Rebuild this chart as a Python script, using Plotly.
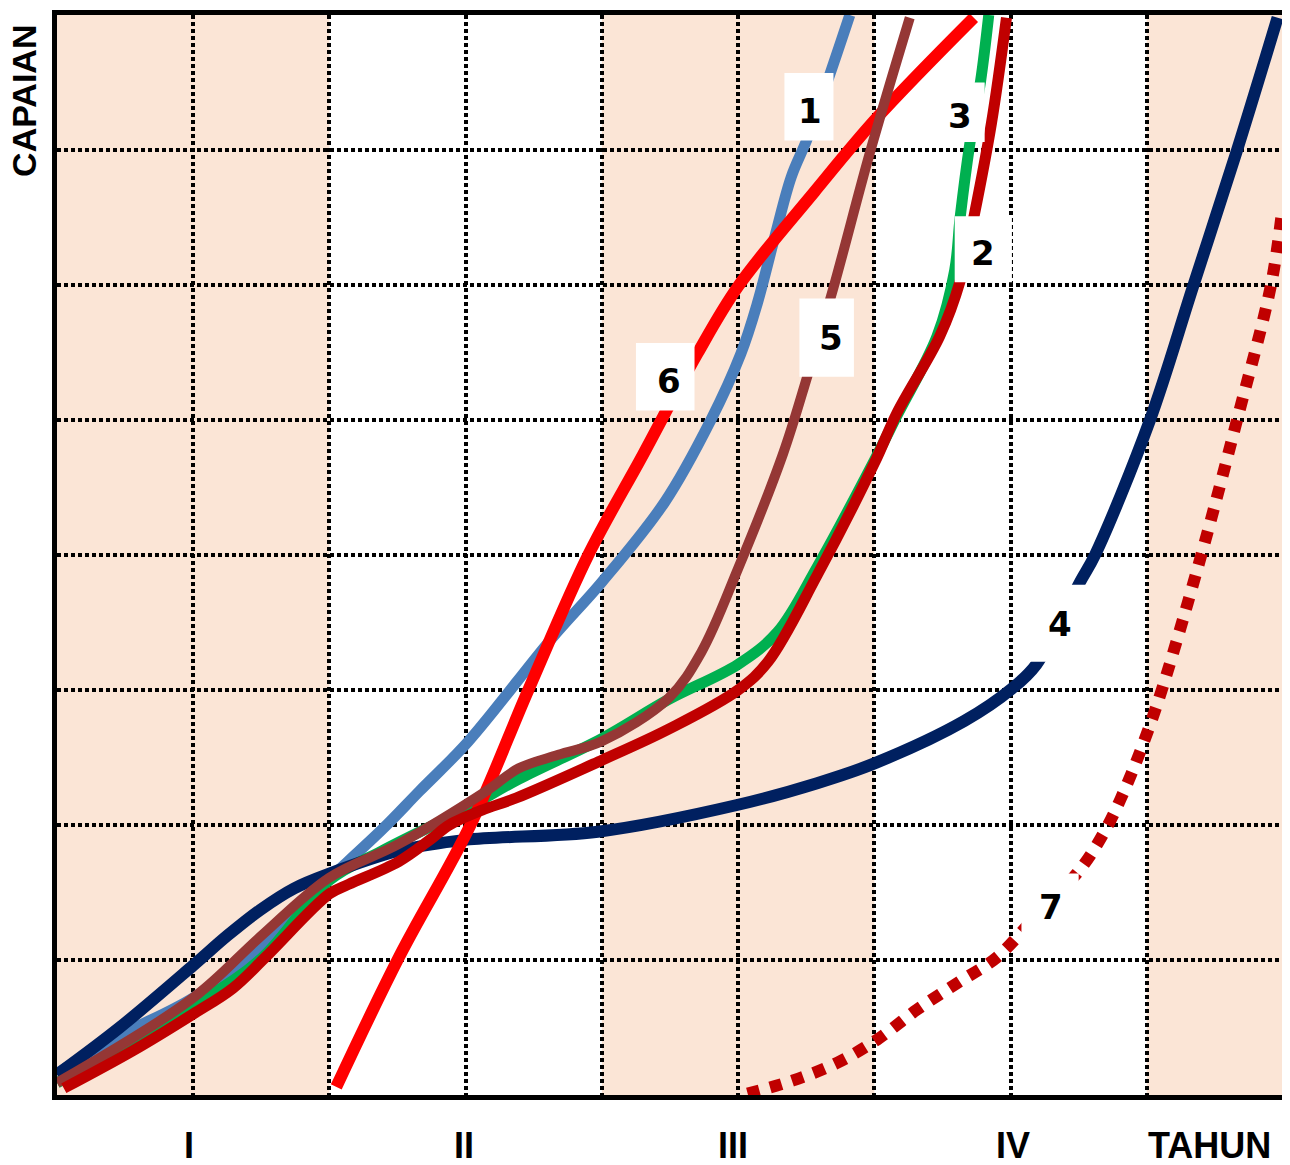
import plotly.graph_objects as go

# ---- data (x: column units 0..9, y: row units 0..8) ----
blue_x = [0.0, 0.46, 1.0, 1.49, 1.85, 2.39, 2.66, 3.02, 3.63, 4.0, 4.46, 4.80, 5.02, 5.14, 5.27, 5.39, 5.51, 5.68, 5.82]
blue_y = [0.16, 0.44, 0.72, 1.09, 1.46, 1.97, 2.25, 2.62, 3.38, 3.80, 4.39, 5.0, 5.49, 5.86, 6.36, 6.80, 7.09, 7.58, 8.0]

green_x = [0.0, 1.0, 1.51, 2.0, 2.39, 3.0, 3.39, 4.0, 4.49, 5.0, 5.29, 5.58, 6.0, 6.17, 6.46, 6.59, 6.63, 6.70, 6.78, 6.84]
green_y = [0.09, 0.66, 1.02, 1.59, 1.81, 2.12, 2.34, 2.64, 2.93, 3.19, 3.43, 3.91, 4.70, 5.04, 5.62, 6.11, 6.50, 7.04, 7.51, 8.0]

navy_x = [0.0, 0.46, 1.0, 1.25, 1.49, 1.74, 2.0, 2.51, 3.0, 3.97, 5.0, 5.58, 6.01, 6.66, 7.01, 7.19, 7.51, 7.62, 8.02, 8.34, 8.66, 8.96]
navy_y = [0.15, 0.50, 0.96, 1.18, 1.37, 1.53, 1.64, 1.81, 1.89, 1.95, 2.15, 2.31, 2.46, 2.77, 3.01, 3.19, 3.80, 4.0, 4.99, 5.99, 6.99, 7.98]

red6_x = [2.05, 2.51, 3.04, 3.46, 3.90, 4.30, 4.70, 5.00, 5.56, 6.02, 6.73]
red6_y = [0.06, 1.02, 2.01, 3.00, 4.00, 4.74, 5.49, 5.99, 6.69, 7.24, 7.98]

brown_x = [0.0, 1.0, 1.49, 2.0, 2.51, 3.15, 3.39, 3.68, 4.0, 4.49, 4.73, 5.0, 5.33, 5.51, 5.70, 5.97, 6.26]
brown_y = [0.09, 0.72, 1.17, 1.61, 1.86, 2.25, 2.42, 2.52, 2.62, 2.94, 3.28, 3.90, 4.75, 5.33, 5.98, 6.99, 7.98]

dred_x = [0.05, 0.56, 1.0, 1.29, 1.53, 2.0, 2.14, 2.51, 2.75, 2.88, 3.12, 3.37, 4.0, 4.49, 5.0, 5.22, 5.58, 6.0, 6.17, 6.48, 6.63, 6.73, 6.86, 6.97]
dred_y = [0.05, 0.33, 0.60, 0.79, 1.02, 1.49, 1.56, 1.73, 1.90, 2.00, 2.11, 2.20, 2.48, 2.71, 3.00, 3.21, 3.85, 4.68, 5.06, 5.62, 6.03, 6.50, 7.20, 7.98]

dot_x = [5.07, 5.41, 5.73, 6.02, 6.31, 6.61, 6.90, 7.19, 7.51, 7.70, 7.85, 7.98, 8.11, 8.40, 8.66, 8.91, 8.99]
dot_y = [0.01, 0.11, 0.24, 0.41, 0.63, 0.83, 1.02, 1.33, 1.67, 1.97, 2.29, 2.62, 3.00, 4.00, 4.99, 5.99, 6.52]

# curve labels: text, centre x, centre y, white box x0, x1, y0, y1
label_text = ["1", "2", "3", "4", "5", "6", "7"]
label_x = [5.53, 6.80, 6.63, 7.36, 5.68, 4.49, 7.30]
label_y = [7.29, 6.24, 7.25, 3.49, 5.61, 5.29, 1.39]
box_x0 = [5.34, 6.59, 6.45, 7.12, 5.45, 4.25, 7.08]
box_x1 = [5.70, 7.01, 6.81, 7.63, 5.85, 4.68, 7.50]
box_y0 = [7.07, 6.02, 7.06, 3.21, 5.32, 5.07, 1.14]
box_y1 = [7.57, 6.51, 7.50, 3.78, 5.90, 5.57, 1.64]

period_labels = ["I", "II", "III", "IV"]
period_pos = [0.97, 2.99, 4.96, 7.02]
x_title = "TAHUN"
y_title = "CAPAIAN"

shade_bands = [(0, 2), (4, 6), (8, 9)]

fig = go.Figure()

def add_line(x, y, color, width, dash=None):
    fig.add_trace(go.Scatter(
        x=x, y=y, mode="lines",
        line=dict(color=color, width=width, shape="spline", smoothing=1.0,
                  dash=dash if dash else "solid"),
        hoverinfo="skip", showlegend=False))

add_line(blue_x, blue_y, "#4A7EBB", 11)
add_line(green_x, green_y, "#00B050", 11)
add_line(navy_x, navy_y, "#002060", 12)
add_line(red6_x, red6_y, "#FF0000", 12)
add_line(brown_x, brown_y, "#953735", 10)
add_line(dred_x, dred_y, "#C00000", 11)
add_line(dot_x, dot_y, "#C00000", 12, dash="12px,11px")

shapes = []
for a, b in shade_bands:
    shapes.append(dict(type="rect", xref="x", yref="y", x0=a, x1=b, y0=0, y1=8,
                       fillcolor="#FBE5D6", line=dict(width=0), layer="below"))
for i in range(len(label_text)):
    shapes.append(dict(type="rect", xref="x", yref="y", x0=box_x0[i], x1=box_x1[i],
                       y0=box_y0[i], y1=box_y1[i], fillcolor="white",
                       line=dict(width=0), layer="above"))

annotations = []
for i, t in enumerate(label_text):
    annotations.append(dict(x=label_x[i], y=label_y[i], xref="x", yref="y",
                            text="<b>%s</b>" % t, showarrow=False,
                            font=dict(family="DejaVu Sans", size=34, color="black")))
for t, p in zip(period_labels, period_pos):
    annotations.append(dict(x=p, y=-0.047, xref="x", yref="paper", text="<b>%s</b>" % t,
                            showarrow=False, yanchor="middle",
                            font=dict(family="Liberation Sans", size=36, color="black")))
annotations.append(dict(x=8.46, y=-0.047, xref="x", yref="paper", text="<b>%s</b>" % x_title,
                        showarrow=False, yanchor="middle",
                        font=dict(family="Liberation Sans", size=36, color="black")))
annotations.append(dict(x=-0.0265, y=0.92, xref="paper", yref="paper", text="<b>%s</b>" % y_title,
                        showarrow=False, textangle=-90, xanchor="center", yanchor="middle",
                        borderpad=0,
                        font=dict(family="Liberation Sans", size=34, color="black")))

axis_common = dict(showgrid=True, gridcolor="black", gridwidth=3.5, griddash="4px,3px",
                   showticklabels=False, ticks="", zeroline=False, showline=True,
                   linecolor="black", linewidth=5, mirror=True, fixedrange=True)

# the page body has an 8px default margin, so the figure is 8px smaller
fig.update_layout(
    width=1282, height=1157,
    margin=dict(l=49, r=3, t=2, b=70),
    paper_bgcolor="white", plot_bgcolor="white",
    xaxis=dict(range=[0, 9], dtick=1, tick0=0, **axis_common),
    yaxis=dict(range=[0, 8], dtick=1, tick0=0, **axis_common),
    shapes=shapes, annotations=annotations, showlegend=False,
)

fig.write_html("out.html")
